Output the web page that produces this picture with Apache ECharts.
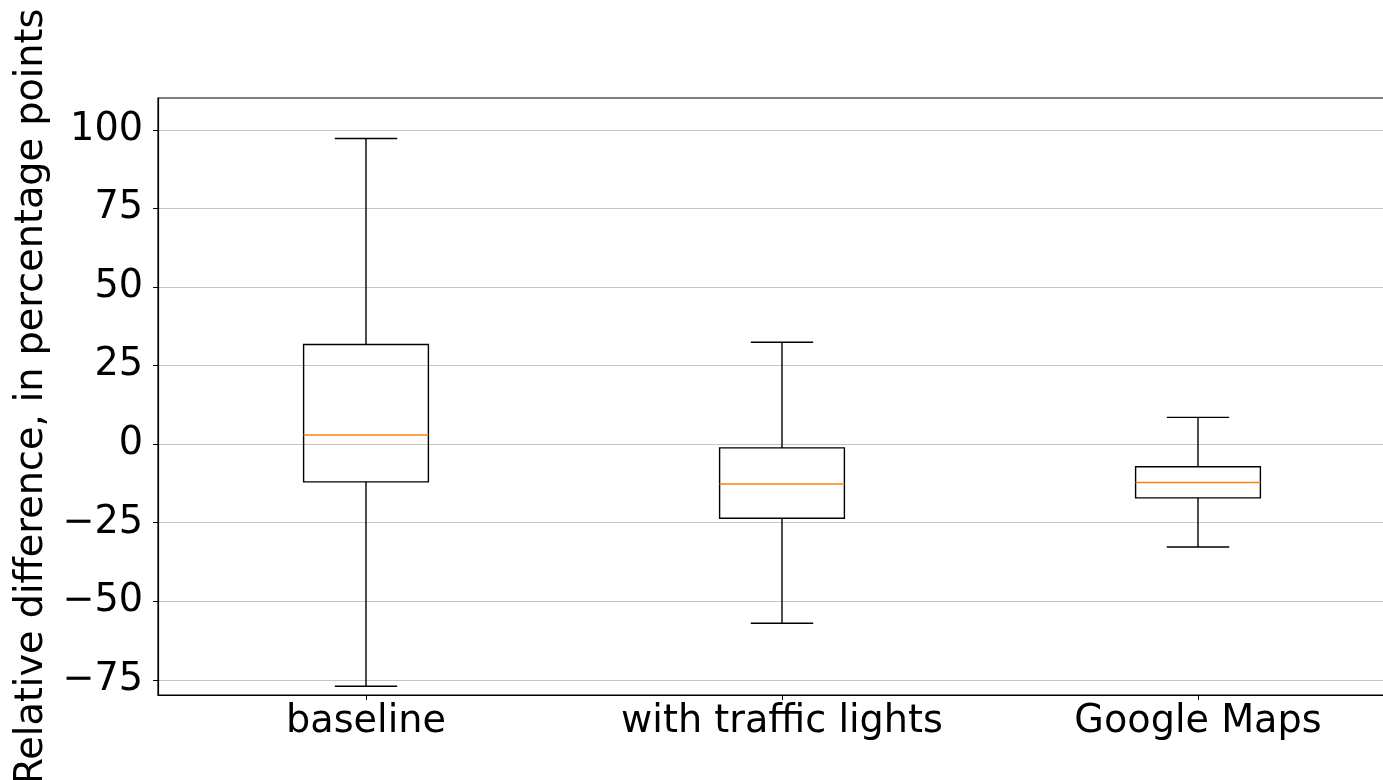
<!DOCTYPE html>
<html>
<head>
<meta charset="utf-8">
<script src="https://cdn.jsdelivr.net/npm/echarts@6/dist/echarts.min.js"></script>
<style>
html,body{margin:0;padding:0;background:#fff;}
#chart{width:1383px;height:780px;}
</style>
</head>
<body>
<div id="chart"></div>
<script>
const categories = ['baseline', 'with traffic lights', 'Google Maps'];
const whiskerLow  = [-77.0, -57.0, -32.7];
const quartile1   = [-12.0, -23.6, -17.1];
const medians     = [2.9, -12.7, -12.2];
const quartile3   = [31.7, -1.2, -7.2];
const whiskerHigh = [97.2, 32.4, 8.5];
const yTicks = [-75, -50, -25, 0, 25, 50, 75, 100];
const yName = 'Relative difference, in percentage points';

const boxData = categories.map((c, i) => [i, whiskerLow[i], quartile1[i], medians[i], quartile3[i], whiskerHigh[i]]);

const FONT = 'DejaVu Sans';
const FS = 38.2;
const chart = echarts.init(document.getElementById('chart'), null, {renderer: 'canvas'});

function renderItem(params, api) {
  const i = api.value(0);
  const band = api.size([1, 0])[0];
  const bw = band * 0.3, cw = band * 0.15;
  const pLo = api.coord([i, api.value(1)]);
  const pQ1 = api.coord([i, api.value(2)]);
  const pMed = api.coord([i, api.value(3)]);
  const pQ3 = api.coord([i, api.value(4)]);
  const pHi = api.coord([i, api.value(5)]);
  const cx = pLo[0];
  const stroke = {stroke: '#000', lineWidth: 1.4, fill: null};
  return {
    type: 'group',
    children: [
      {type: 'line', shape: {x1: cx, y1: pQ3[1], x2: cx, y2: pHi[1]}, style: stroke},
      {type: 'line', shape: {x1: cx, y1: pQ1[1], x2: cx, y2: pLo[1]}, style: stroke},
      {type: 'line', shape: {x1: cx - cw / 2, y1: pHi[1], x2: cx + cw / 2, y2: pHi[1]}, style: stroke},
      {type: 'line', shape: {x1: cx - cw / 2, y1: pLo[1], x2: cx + cw / 2, y2: pLo[1]}, style: stroke},
      {type: 'rect', shape: {x: cx - bw / 2, y: pQ3[1], width: bw, height: pQ1[1] - pQ3[1]}, style: {stroke: '#000', lineWidth: 1.4, fill: 'rgba(0,0,0,0)'}},
      {type: 'line', shape: {x1: cx - bw / 2, y1: pMed[1], x2: cx + bw / 2, y2: pMed[1]}, style: {stroke: '#ff7f0e', lineWidth: 1.4}}
    ]
  };
}

chart.setOption({
  animation: false,
  backgroundColor: '#fff',
  grid: {
    left: 158, top: 98, right: -23, bottom: 85,
    containLabel: false, outerBoundsMode: 'none',
    show: true, borderColor: '#000', borderWidth: 1.2, backgroundColor: 'transparent'
  },
  xAxis: {
    type: 'category',
    data: categories,
    boundaryGap: true,
    axisLine: {show: true, onZero: false, lineStyle: {color: '#000', width: 1.2}},
    axisTick: {show: true, alignWithLabel: true, interval: 0, length: 5, lineStyle: {color: '#000', width: 1}},
    axisLabel: {color: '#000', fontFamily: FONT, fontSize: FS, margin: 8, interval: 0, hideOverlap: false},
    splitLine: {show: false}
  },
  yAxis: {
    type: 'value',
    min: -79.8,
    max: 110.1,
    name: yName,
    nameLocation: 'middle',
    nameRotate: 90,
    nameGap: 100,
    nameTextStyle: {color: '#000', fontFamily: FONT, fontSize: FS},
    axisLine: {show: true, lineStyle: {color: '#000', width: 1.2}},
    axisTick: {show: true, length: 5, lineStyle: {color: '#000', width: 1}, customValues: yTicks},
    axisLabel: {
      color: '#000', fontFamily: FONT, fontSize: FS, margin: 15,
      customValues: yTicks,
      formatter: v => String(v).replace('-', '\u2212')
    },
    splitLine: {show: true, lineStyle: {color: '#c4c4c4', width: 1.2}}
  },
  series: [{
    type: 'custom',
    renderItem: renderItem,
    encode: {x: 0, y: [1, 2, 3, 4, 5]},
    data: boxData,
    z: 10
  }]
});
</script>
</body>
</html>
